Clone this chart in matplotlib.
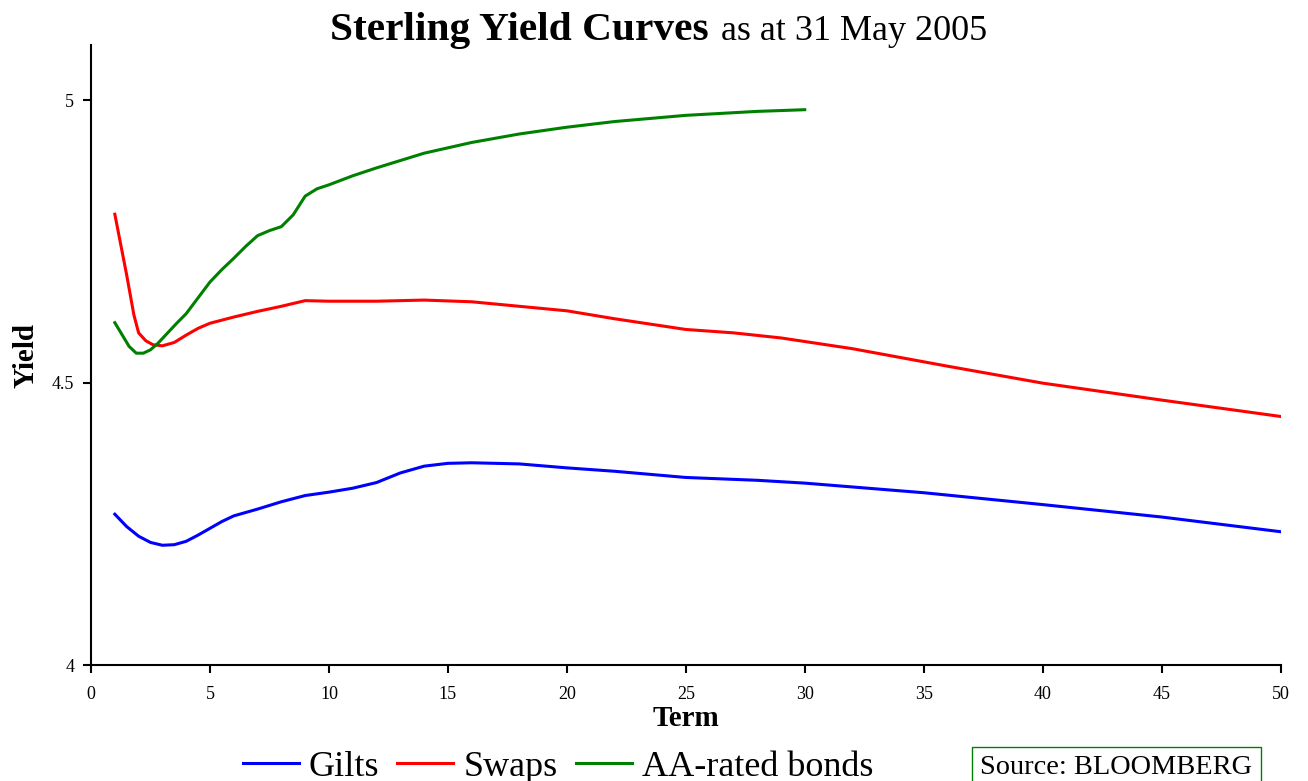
import matplotlib
matplotlib.use('Agg')
import matplotlib.pyplot as plt

# Data (term in years, yield in %)
gilts_term = [1, 1.5, 2, 2.5, 3, 3.5, 4, 4.5, 5, 5.5, 6, 7, 8, 9, 10, 11, 12, 13, 14,
              15, 16, 18, 20, 22, 25, 28, 30, 35, 40, 45, 50]
gilts_yield = [4.267, 4.245, 4.228, 4.217, 4.212, 4.213, 4.219, 4.230, 4.242, 4.254,
               4.264, 4.276, 4.289, 4.300, 4.306, 4.313, 4.323, 4.340, 4.352, 4.357,
               4.358, 4.356, 4.349, 4.343, 4.332, 4.327, 4.322, 4.305, 4.284, 4.262,
               4.236]

swaps_term = [1, 1.5, 1.8, 2, 2.3, 2.6, 3, 3.5, 4, 4.5, 5, 6, 7, 8, 9, 10, 12, 14, 16,
              18, 20, 22, 25, 27, 29, 32, 36, 40, 45, 50]
swaps_yield = [4.798, 4.690, 4.620, 4.588, 4.574, 4.567, 4.565, 4.571, 4.584, 4.596,
               4.605, 4.616, 4.626, 4.635, 4.645, 4.644, 4.644, 4.646, 4.643, 4.635,
               4.627, 4.613, 4.594, 4.588, 4.579, 4.560, 4.529, 4.499, 4.469, 4.440]

aa_term = [1, 1.3, 1.6, 1.9, 2.2, 2.5, 2.8, 3.2, 3.6, 4, 4.5, 5, 5.5, 6, 6.5, 7, 7.5,
           8, 8.5, 9, 9.5, 10, 11, 12, 13, 14, 16, 18, 20, 22, 25, 28, 30]
aa_yield = [4.606, 4.585, 4.564, 4.552, 4.552, 4.558, 4.569, 4.587, 4.605, 4.622,
            4.650, 4.678, 4.700, 4.720, 4.741, 4.760, 4.769, 4.776, 4.797, 4.830,
            4.843, 4.850, 4.866, 4.880, 4.893, 4.906, 4.925, 4.940, 4.952, 4.962,
            4.973, 4.980, 4.983]

x_ticks = [0, 5, 10, 15, 20, 25, 30, 35, 40, 45, 50]
y_ticks = [4, 4.5, 5]
y_tick_labels = ['4', '4.5', '5']

plt.rcParams['font.family'] = ['Liberation Serif', 'DejaVu Serif']

fig = plt.figure(figsize=(13.08, 7.81), dpi=100)
ax = fig.add_axes([0.0696, 0.1485, 0.9094, 0.7935])

lw = 2.2
ax.plot(gilts_term, gilts_yield, color='#0000ff', lw=lw, label='Gilts',
        solid_joinstyle='round')
ax.plot(swaps_term, swaps_yield, color='#ff0000', lw=lw, label='Swaps',
        solid_joinstyle='round')
ax.plot(aa_term, aa_yield, color='#008000', lw=lw, label='AA-rated bonds',
        solid_joinstyle='round')

ax.set_xlim(0, 50)
ax.set_ylim(4, 5.097)
ax.set_xticks(x_ticks)
ax.set_yticks(y_ticks)
ax.set_yticklabels(y_tick_labels)

for s in ['top', 'right']:
    ax.spines[s].set_visible(False)
for s in ['left', 'bottom']:
    ax.spines[s].set_linewidth(1.5)
ax.tick_params(axis='both', direction='out', length=6, width=1.5, labelsize=13)
ax.tick_params(axis='x', pad=9)
ax.tick_params(axis='y', pad=6)

ax.set_xlabel('Term', fontsize=21, fontweight='bold')
ax.xaxis.set_label_coords(0.5, -0.065)
ax.set_ylabel('Yield', fontsize=21, fontweight='bold')
ax.yaxis.set_label_coords(-0.043, 0.5)

# Title: bold part plus regular part
fig.text(330 / 1308, 0.9488, 'Sterling Yield Curves', fontsize=29.8,
         fontweight='bold', ha='left', va='baseline')
fig.text(721 / 1308, 0.9488, 'as at 31 May 2005', fontsize=26,
         ha='left', va='baseline')

fig.legend(loc='center', bbox_to_anchor=(558 / 1308, 0.018), ncol=3,
           frameon=False, fontsize=26, handlelength=1.55, handletextpad=0.28,
           columnspacing=0.5, borderpad=0)

fig.text(980 / 1308, 0.017, 'Source: BLOOMBERG', fontsize=20.4, ha='left',
         va='center',
         bbox=dict(boxstyle='square,pad=0.3', facecolor='white',
                   edgecolor='#008000', linewidth=1))

fig.savefig('out.png', dpi=100)
